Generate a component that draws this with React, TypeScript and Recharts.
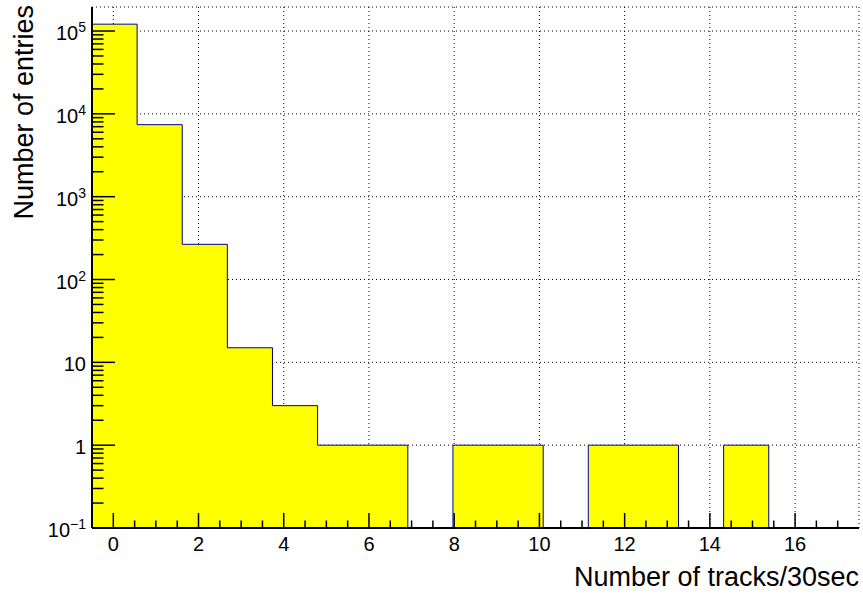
import React from 'react';
import { ComposedChart, Area, XAxis, YAxis, CartesianGrid } from 'recharts';

// Histogram definition (17 bins from -0.5 to 17.5)
const X_MIN = -0.5;
const X_MAX = 17.5;
const Y_MIN = 0.1;
const Y_MAX = 1.95e5;
const binCounts = [121000, 7400, 266, 15, 3, 1, 1, 0, 1, 1, 0, 1, 1, 0, 1, 0, 0];

const xMajorTicks = [0, 2, 4, 6, 8, 10, 12, 14, 16];
const xAllTicks = [0, 0.5, 1, 1.5, 2, 2.5, 3, 3.5, 4, 4.5, 5, 5.5, 6, 6.5, 7, 7.5, 8, 8.5, 9, 9.5, 10, 10.5, 11, 11.5, 12, 12.5, 13, 13.5, 14, 14.5, 15, 15.5, 16, 16.5, 17];
const yMajorTicks = [0.1, 1, 10, 100, 1000, 10000, 100000];
const yMinorMultipliers = [2, 3, 4, 5, 6, 7, 8, 9];

const FONT = '"Liberation Sans", Arial, Helvetica, sans-serif';

const yAllTicks: number[] = [];
yMajorTicks.forEach((d) => {
  yAllTicks.push(d);
  yMinorMultipliers.forEach((m) => {
    const v = d * m;
    if (v <= Y_MAX) yAllTicks.push(v);
  });
});

const binWidth = (X_MAX - X_MIN) / binCounts.length;
const histData = binCounts.map((c, i) => ({ x: X_MIN + i * binWidth, count: c > 0 ? c : Y_MIN }));
histData.push({ x: X_MAX, count: binCounts[binCounts.length - 1] > 0 ? binCounts[binCounts.length - 1] : Y_MIN });

const isMajorX = (v: number) => Math.abs(v / 2 - Math.round(v / 2)) < 1e-9;
const isMajorY = (v: number) => Math.abs(Math.log10(v) - Math.round(Math.log10(v))) < 1e-9;

const XTick = (props: any) => {
  const { x, y, payload } = props;
  const v = payload.value;
  const major = isMajorX(v);
  return (
    <g>
      <line x1={x} x2={x} y1={y} y2={y - (major ? 15 : 7.5)} stroke="#000" strokeWidth={1.5} />
      {major && (
        <text x={x} y={y + 23} textAnchor="middle" fontSize={20} fontFamily={FONT} fill="#000">
          {v}
        </text>
      )}
    </g>
  );
};

const YTick = (props: any) => {
  const { x, y, payload } = props;
  const v = payload.value;
  const major = isMajorY(v);
  let label: React.ReactNode = null;
  if (major) {
    const e = Math.round(Math.log10(v));
    if (e === 0 || e === 1) {
      label = <tspan>{e === 0 ? '1' : '10'}</tspan>;
    } else {
      label = [
        <tspan key="b">10</tspan>,
        <tspan key="e" dy={-8} fontSize={14}>{e < 0 ? '\u2212' + Math.abs(e) : String(e)}</tspan>,
      ];
    }
  }
  return (
    <g>
      <line x1={x} x2={x + (major ? 23 : 11.5)} y1={y} y2={y} stroke="#000" strokeWidth={1.5} />
      {major && (
        <text x={x - 6} y={y + 9} textAnchor="end" fontSize={20} fontFamily={FONT} fill="#000">
          {label}
        </text>
      )}
    </g>
  );
};

export default function App() {
  return (
    <div style={{ position: 'absolute', left: 0, top: 0, width: 863, height: 593, background: '#fff' }}>
      <ComposedChart width={863} height={593} data={histData} margin={{ top: 7, right: 4, bottom: 0, left: 0 }}>
        <XAxis
          xAxisId="x"
          dataKey="x"
          type="number"
          domain={[X_MIN, X_MAX]}
          allowDataOverflow
          ticks={xAllTicks}
          interval={0}
          height={65}
          tickSize={0}
          tickMargin={0}
          tickLine={false}
          tick={<XTick />}
          axisLine={{ stroke: '#000', strokeWidth: 2 }}
        />
        <YAxis
          yAxisId="y"
          type="number"
          scale="log"
          domain={[Y_MIN, Y_MAX]}
          allowDataOverflow
          ticks={yAllTicks}
          interval={0}
          width={92}
          tickSize={0}
          tickMargin={0}
          tickLine={false}
          tick={<YTick />}
          axisLine={{ stroke: '#000', strokeWidth: 2 }}
        />
        <XAxis xAxisId="g" dataKey="x" type="number" domain={[X_MIN, X_MAX]} allowDataOverflow ticks={xMajorTicks} height={0} hide />
        <YAxis yAxisId="g" type="number" scale="log" domain={[Y_MIN, Y_MAX]} allowDataOverflow ticks={yMajorTicks} width={0} hide />
        <CartesianGrid
          xAxisId="g"
          yAxisId="g"
          stroke="#000"
          strokeWidth={1}
          strokeDasharray="1 3"
        />
        <Area
          xAxisId="x"
          yAxisId="y"
          dataKey="count"
          type="stepAfter"
          baseValue={Y_MIN}
          fill="#ffff00"
          fillOpacity={1}
          stroke="#000099"
          strokeWidth={1}
          dot={false}
          activeDot={false}
          isAnimationActive={false}
        />
        <XAxis
          xAxisId="t"
          orientation="top"
          type="number"
          dataKey="x"
          domain={[X_MIN, X_MAX]}
          allowDataOverflow
          height={0}
          tick={false}
          tickLine={false}
          axisLine={{ stroke: '#000', strokeWidth: 2 }}
        />
        <YAxis
          yAxisId="r"
          orientation="right"
          type="number"
          scale="log"
          domain={[Y_MIN, Y_MAX]}
          allowDataOverflow
          width={0}
          tick={false}
          tickLine={false}
          axisLine={{ stroke: '#000', strokeWidth: 2 }}
        />
        <text x={859} y={586} textAnchor="end" fontSize={27} fontFamily={FONT} fill="#000">
          Number of tracks/30sec
        </text>
        <text transform="translate(33,5) rotate(-90)" textAnchor="end" fontSize={27} fontFamily={FONT} fill="#000">
          Number of entries
        </text>
      </ComposedChart>
    </div>
  );
}
